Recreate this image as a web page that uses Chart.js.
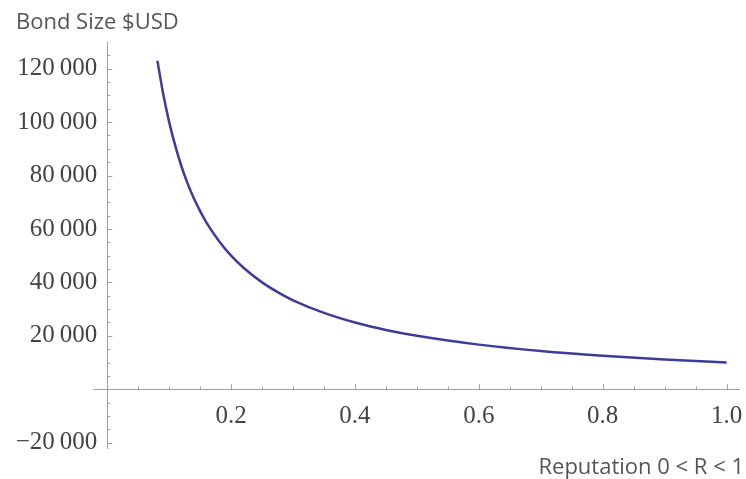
<!DOCTYPE html>
<html>
<head>
<meta charset="utf-8">
<script src="https://cdn.jsdelivr.net/npm/chart.js@4"></script>
<style>
  html, body { margin: 0; padding: 0; background: #fff; }
  #wrap { width: 746px; height: 479px; }
</style>
</head>
<body>
<div id="wrap"><canvas id="chart"></canvas></div>
<script>
	// ******************************************************** DATA

	var reputation = [0.081, 0.09, 0.1, 0.11, 0.12, 0.13, 0.14, 0.15, 0.16, 0.18, 0.2, 0.22,
		0.25, 0.28, 0.3, 0.35, 0.4, 0.45, 0.5, 0.6, 0.7, 0.8, 0.9, 1.0];
	var bondSize = [123000, 111000, 100000, 91000, 83300, 76900, 71400, 66700, 62500, 55600, 50000, 45500,
		40000, 35700, 33300, 28600, 25000, 22200, 20000, 16700, 14300, 12500, 11100, 10000];

	var xTicks = [0.2, 0.4, 0.6, 0.8, 1.0];
	var yTicks = [-20000, 20000, 40000, 60000, 80000, 100000, 120000];

	var xTitle = 'Reputation 0 < R < 1';
	var yTitle = 'Bond Size $USD';

	// ******************************************************** HELPERS

	function fmtY(v) {
		var s = Math.abs(v).toString();
		if (s.length > 3) s = s.slice(0, -3) + '\u2009' + s.slice(-3);
		// trailing spaces keep the label off the axis line
		return (v < 0 ? '\u2212' : '') + s + '\u2009\u2009';
	}

	var axisColor = '#a0a0a0';

	// small inward tick marks + axis titles
	var decor = {
		id: 'decor',
		afterDraw: function (chart) {
			var ctx = chart.ctx, xs = chart.scales.x, ys = chart.scales.y;
			var x0 = xs.getPixelForValue(0), y0 = ys.getPixelForValue(0);
			ctx.save();
			ctx.strokeStyle = axisColor;
			ctx.lineWidth = 1;
			ctx.beginPath();
			for (var i = 1; i <= 20; i++) {
				var px = Math.round(xs.getPixelForValue(i * 0.05)) + 0.5;
				var len = (i % 4 === 0) ? 5 : 3;
				ctx.moveTo(px, y0);
				ctx.lineTo(px, y0 - len);
			}
			for (var v = -20000; v <= 125000; v += 5000) {
				if (v === 0) continue;
				var py = Math.round(ys.getPixelForValue(v)) + 0.5;
				var l2 = (v % 20000 === 0) ? 5 : 3;
				ctx.moveTo(x0, py);
				ctx.lineTo(x0 + l2, py);
			}
			ctx.stroke();

			ctx.fillStyle = '#555';
			ctx.font = '22px "Open Sans"';
			ctx.textBaseline = 'alphabetic';
			ctx.textAlign = 'left';
			ctx.fillText(yTitle, 16, 29);
			ctx.textAlign = 'right';
			ctx.fillText(xTitle, 744, 474);
			ctx.restore();
		}
	};

	// ******************************************************** CHART

	var ctxc = document.getElementById('chart').getContext('2d');

	window.myChart = new Chart(ctxc, {
		type: 'line',
		data: {
			datasets: [{
				label: 'Bond size',
				data: reputation.map(function (r, i) { return { x: r, y: bondSize[i] }; }),
				borderColor: '#3d3d99',
				borderWidth: 2.5,
				pointRadius: 0,
				fill: false,
				cubicInterpolationMode: 'monotone'
			}]
		},
		options: {
			responsive: true,
			maintainAspectRatio: false,
			animation: false,
			layout: { padding: { left: 93, right: 7, top: 42, bottom: 31 } },
			plugins: {
				legend: { display: false },
				tooltip: { enabled: false }
			},
			scales: {
				x: {
					type: 'linear',
					position: { y: 0 },
					min: -0.023,
					max: 1.02,
					afterBuildTicks: function (s) { s.ticks = xTicks.map(function (v) { return { value: v }; }); },
					afterFit: function (s) { s.paddingLeft = 0; s.paddingRight = 0; },
					grid: { drawOnChartArea: false, drawTicks: false },
					border: { display: true, color: axisColor, width: 1 },
					ticks: {
						padding: 12,
						maxRotation: 0,
						autoSkip: false,
						color: '#444',
						font: { family: '"Liberation Serif"', size: 25 },
						callback: function (v) { return v.toFixed(1); }
					}
				},
				y: {
					type: 'linear',
					position: { x: 0 },
					min: -22000,
					max: 130000,
					afterBuildTicks: function (s) { s.ticks = yTicks.map(function (v) { return { value: v }; }); },
					afterFit: function (s) { s.paddingTop = 0; s.paddingBottom = 0; },
					grid: { drawOnChartArea: false, drawTicks: false },
					border: { display: true, color: axisColor, width: 1 },
					ticks: {
						padding: 9,
						autoSkip: false,
						color: '#444',
						font: { family: '"Liberation Serif"', size: 25 },
						callback: function (v) { return fmtY(v); }
					}
				}
			}
		},
		plugins: [decor]
	});
</script>
</body>
</html>
